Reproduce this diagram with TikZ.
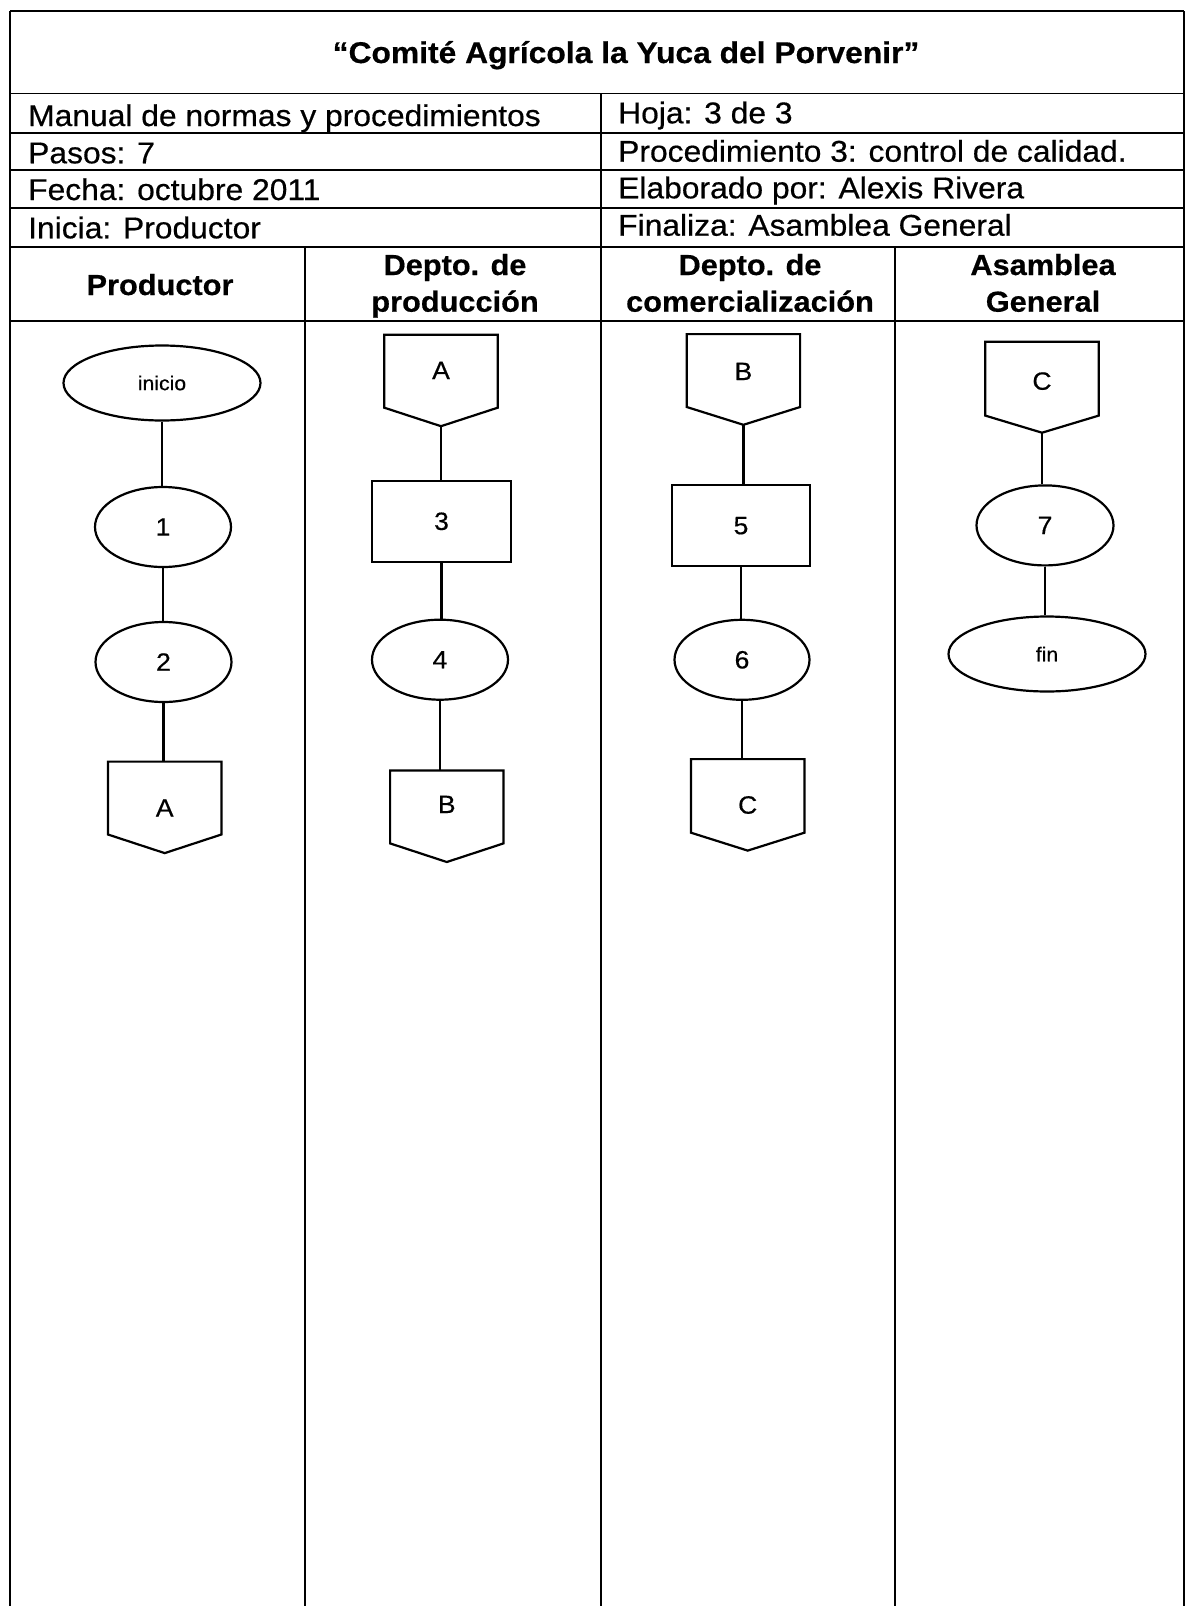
\documentclass[tikz,border=0pt]{standalone}
\usepackage{fontspec}
\setmainfont{Liberation Sans}[FakeStretch=1.06,FakeBold=0.5]
\usetikzlibrary{shapes.geometric}
\tikzset{
 tbl/.style={line width=1.9pt},
 shp/.style={draw, line width=2.2pt},
 conn/.style={line width=2.2pt},
 oval/.style={shp, ellipse, inner sep=0pt, minimum width=136pt, minimum height=80pt, font=\fontsize{25}{30}\selectfont},
 bigoval/.style={oval, minimum width=197pt, minimum height=75pt, font=\fontsize{20}{24}\selectfont},
 proc/.style={shp, rectangle, inner sep=0pt, minimum width=139pt, minimum height=81pt, font=\fontsize{25}{30}\selectfont},
 offbox/.style={rectangle, inner sep=0pt, minimum width=113pt, font=\fontsize{25}{30}\selectfont},
 info/.style={anchor=base west, inner sep=0pt, font=\fontsize{30}{36}\selectfont},
 hdr/.style={anchor=base, inner sep=0pt, font=\bfseries\fontsize{29}{36}\selectfont},
}
% name, cx, ytop, ysides, ytip, label, label centre y
\newcommand{\offpg}[7]{%
  \pgfmathsetmacro\offcy{(#3+#4)/2}%
  \pgfmathsetmacro\offh{#4-#3}%
  \pgfmathsetmacro\offr{\offcy-#7-9}%
  \pgfmathsetmacro\offd{#5-#4}%
  \node[offbox, minimum height=\offh pt] (#1) at (#2,\offcy) {\raisebox{\offr pt}[0pt][0pt]{#6}};
  \draw[shp] (#1.north west) -- (#1.north east) -- (#1.south east) -- ([yshift=-\offd pt]#1.south) coordinate (#1tip) -- (#1.south west) -- cycle;
}
\begin{document}
\begin{tikzpicture}[x=1pt,y=-1pt]
\useasboundingbox (0,0) rectangle (1185,1606);
% table
\draw[tbl] (10,11) -- (1184,11);
\draw[tbl] (10,93.5) -- (1184,93.5);
\draw[tbl] (10,132.7) -- (1184,132.7);
\draw[tbl] (10,170) -- (1184,170);
\draw[tbl] (10,208) -- (1184,208);
\draw[tbl] (10,246.7) -- (1184,246.7);
\draw[tbl] (10,321) -- (1184,321);
\draw[tbl] (10,11) -- (10,1606);
\draw[tbl] (1184,11) -- (1184,1606);
\draw[tbl] (601,93.5) -- (601,1606);
\draw[tbl] (305,246.7) -- (305,1606);
\draw[tbl] (895,246.7) -- (895,1606);
% title
\node[anchor=base, inner sep=0pt, font=\bfseries\fontsize{30}{36}\selectfont] (title) at (626,63) {“Comité Agrícola la Yuca del Porvenir”};
% info rows
\node[info] (i1) at (28,126) {Manual de normas y procedimientos};
\node[info] (i2) at (28,163.3) {Pasos: 7};
\node[info] (i3) at (28,200) {Fecha: octubre 2011};
\node[info] (i4) at (28,238.3) {Inicia: Productor};
\node[info] (j1) at (618,123.3) {Hoja: 3 de 3};
\node[info] (j2) at (618,161.7) {Procedimiento 3: control de calidad.};
\node[info] (j3) at (618,198.3) {Elaborado por: Alexis Rivera};
\node[info] (j4) at (618,235.7) {Finaliza: Asamblea General};
% headers
\node[hdr] (h1) at (160,295) {Productor};
\node[hdr] (h2a) at (455,275) {Depto. de};
\node[hdr] (h2b) at (455,311.7) {producción};
\node[hdr] (h3a) at (750,275) {Depto. de};
\node[hdr] (h3b) at (750,311.7) {comercialización};
\node[hdr] (h4a) at (1043,275) {Asamblea};
\node[hdr] (h4b) at (1043,311.7) {General};
% column 1
\node[bigoval] (inicio) at (162,383) {inicio};
\node[oval] (s1) at (163,527) {1};
\node[oval] (s2) at (163.5,662) {2};
\offpg{A1}{164.7}{761.8}{834.3}{852.9}{A}{807.5}
\draw[conn] (inicio.south) -- (inicio.south |- s1.north);
\draw[conn] (s1.south) -- (s1.south |- s2.north);
\draw[conn] (s2.south) -- (s2.south |- A1.north);
% column 2
\offpg{A2}{441}{335}{407.5}{426}{A}{370}
\node[proc] (s3) at (441.5,521.3) {3};
\node[oval] (s4) at (440,659.7) {4};
\offpg{B2}{446.8}{770.7}{843.2}{861.8}{B}{804}
\draw[conn] (A2tip) -- (A2tip |- s3.north);
\draw[conn] (s3.south) -- (s3.south |- s4.north);
\draw[conn] (s4.south) -- (s4.south |- B2.north);
% column 3
\offpg{B3}{743.4}{334.3}{406.8}{424.6}{B}{371}
\node[proc, minimum width=138pt] (s5) at (741,525.7) {5};
\node[oval, minimum width=135pt] (s6) at (742,659.8) {6};
\offpg{C3}{747.7}{759.3}{832.5}{850.4}{C}{804.6}
\draw[conn] (B3tip) -- (B3tip |- s5.north);
\draw[conn] (s5.south) -- (s5.south |- s6.north);
\draw[conn] (s6.south) -- (s6.south |- C3.north);
% column 4
\offpg{C4}{1042}{342}{415.4}{432.5}{C}{380.7}
\node[oval, minimum width=137pt] (s7) at (1045,525.4) {7};
\node[bigoval] (fin) at (1047,654) {fin};
\draw[conn] (C4tip) -- (C4tip |- s7.north);
\draw[conn] (s7.south) -- (s7.south |- fin.north);
\end{tikzpicture}
\end{document}
